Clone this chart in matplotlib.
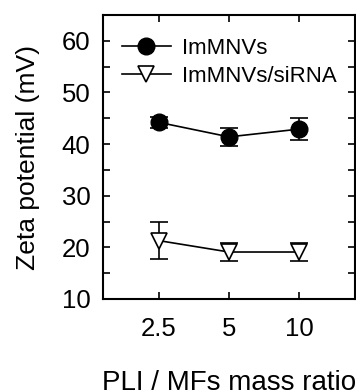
import matplotlib
matplotlib.use('Agg')
import matplotlib.pyplot as plt
from matplotlib.lines import Line2D
from matplotlib.ticker import MultipleLocator

plt.rcParams['font.family'] = ['Liberation Sans', 'DejaVu Sans']

ratios = ['2.5', '5', '10']
x = [1, 2, 3]
zeta_mnv = [44.2, 41.4, 42.9]
err_mnv = [1.0, 1.7, 2.1]
zeta_sirna = [21.3, 19.1, 19.1]
err_sirna = [3.6, 1.8, 1.8]

fig = plt.figure(figsize=(3.56, 3.9), dpi=100)
ax = fig.add_axes([103/356, 1-299/390, 252/356, 284/390])

ax.errorbar(x, zeta_mnv, yerr=err_mnv, color='black', marker='o', ms=12,
            mfc='black', lw=1.2, elinewidth=1.2, capsize=6.5, capthick=1.2)
ax.errorbar(x, zeta_sirna, yerr=err_sirna, color='black', marker='v', ms=11,
            mfc='white', mew=1.2, lw=1.2, elinewidth=1.2, capsize=6.5,
            capthick=1.2)

ax.set_xlim(0.2, 3.8)
ax.set_ylim(10, 65)
ax.set_xticks(x)
ax.set_xticklabels(ratios)
ax.yaxis.set_major_locator(MultipleLocator(10))
ax.yaxis.set_minor_locator(MultipleLocator(5))
ax.set_yticks([10, 20, 30, 40, 50, 60])
ax.tick_params(which='both', direction='in', top=True, right=True,
               labelsize=18.5, width=1.2, length=5)
ax.tick_params(axis='y', pad=9)
ax.tick_params(axis='x', pad=13)
for s in ax.spines.values():
    s.set_linewidth(1.5)

ax.set_ylabel('Zeta potential (mV)', fontsize=19, labelpad=16)
ax.set_xlabel('PLI / MFs mass ratio', fontsize=20, labelpad=21)

handles = [
    Line2D([], [], color='black', marker='o', ms=12, mfc='black', lw=1.2),
    Line2D([], [], color='black', marker='v', ms=11, mfc='white', mew=1.2, lw=1.2),
]
ax.legend(handles, ['ImMNVs', 'ImMNVs/siRNA'], loc='upper left',
          frameon=False, fontsize=16, handlelength=2.2, borderaxespad=0.0,
          handletextpad=0.5, labelspacing=0.3, bbox_to_anchor=(0.04, 0.95))

fig.savefig('out.png', dpi=100)
